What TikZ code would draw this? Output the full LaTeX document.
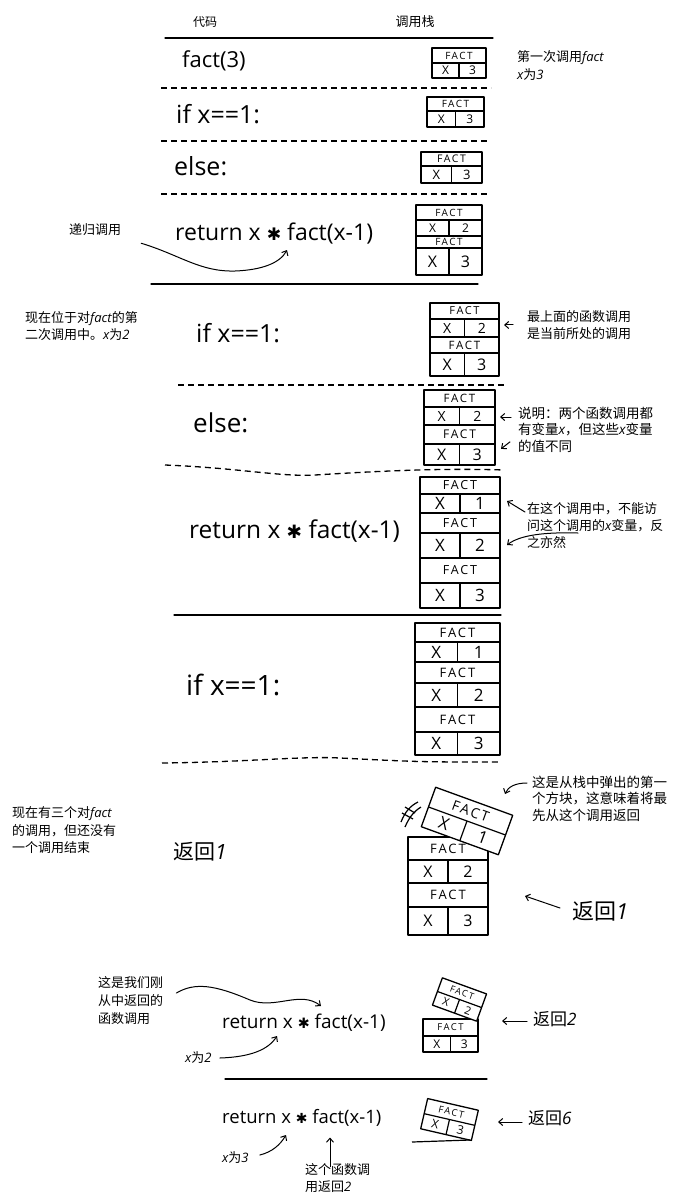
\documentclass[tikz,border=0pt]{standalone}
\usepackage{fontspec}
\setmainfont{Open Sans}
\newfontfamily\cjk{Noto Sans CJK SC}
\newfontfamily\starfont[Scale=0.75]{DejaVu Sans}
\newfontfamily\framefont[LetterSpace=15]{Open Sans}
\usetikzlibrary{arrows.meta}
\newcommand{\ital}[1]{{\normalfont\itshape #1}}
\newcommand{\timesstar}{{\starfont ✱}}
\newcommand{\callframe}[9]{%
\draw[framebox] (#2,#4) rectangle (#3,#6);
\draw[frameline] (#2,#5) -- (#3,#5);
\draw[frameline] ({((#2)+(#3))/2},#5) -- ({((#2)+(#3))/2},#6);
\draw ({((#2)+(#3))/2},{((#4)+(#5))/2}) node[framelbl, font=\framefont\fontsize{#8}{#8}\selectfont] (#1f) {FACT};
\draw ({(3*(#2)+(#3))/4},{((#5)+(#6))/2}) node[framelbl, font=\fontsize{#9}{#9}\selectfont] (#1x) {X};
\draw ({((#2)+3*(#3))/4},{((#5)+(#6))/2}) node[framelbl, font=\fontsize{#9}{#9}\selectfont] (#1v) {#7};}
\begin{document}
\begin{tikzpicture}[x=1pt, y=-1pt,
solidrule/.style={line width=1.3pt, line cap=round},
dashrule/.style={line width=1.3pt, dash pattern=on 6pt off 4pt},
framebox/.style={line width=1.3pt, fill=white, line join=round},
frameline/.style={line width=1.2pt},
framelbl/.style={inner sep=0pt},
code/.style={anchor=west, inner sep=0pt},
note/.style={anchor=north west, align=left, inner sep=0pt, font=\cjk\fontsize{13}{16.5}\selectfont},
arr/.style={-{Straight Barb[length=4pt,width=7pt]}, line width=1pt, line cap=round}]
\useasboundingbox (0,0) rectangle (700,1197);
\draw (205,22) node[note, anchor=center, font=\cjk\fontsize{12}{14}\selectfont] (hcode) {代码};
\draw (415,22) node[note, anchor=center] (hstack) {调用栈};
\draw[solidrule] (165,38) -- (493,38);
\draw (182,61) node[code, font=\fontsize{22}{26}\selectfont] (c1) {fact(3)};
\callframe{f1}{432}{486}{48}{63}{78}{3}{10}{12}
\draw (517,50.5) node[note, font=\cjk\fontsize{13}{18}\selectfont] (n1) {第一次调用\ital{fact}\\\ital{x}为\ital{3}};
\draw[dashrule] (161,88) -- (491,88);
\draw (176,114) node[code, font=\fontsize{25}{28}\selectfont] (c2) {if x==1:};
\callframe{f2}{427}{484}{97}{111}{127}{3}{10}{12}
\draw[dashrule] (161,141) -- (490,141);
\draw (174,166) node[code, font=\fontsize{25}{28}\selectfont] (c3) {else:};
\callframe{f3}{421}{482}{152}{166}{183}{3}{10.5}{13}
\draw[dashrule] (161,194) -- (487,194);
\draw (175,234) node[code, font=\fontsize{23}{26}\selectfont] (c4) {return x \timesstar\ fact(x-1)};
\callframe{f4a}{416}{482}{205}{220}{236}{2}{10}{12}
\callframe{f4b}{416}{482}{236}{248}{275}{3}{10}{16}
\draw (95,230) node[note, anchor=center] (n4) {递归调用};
\coordinate (t4) at (287,250);
\draw[arr] ([xshift=20pt,yshift=-7pt]n4.south east) .. controls (180,255) and (200,272) .. (235,271) .. controls (262,270) and (280,263) .. (t4);
\draw[solidrule] (151,284) -- (478,284);
\draw (25,311.5) node[note, font=\cjk\fontsize{13}{17}\selectfont] (n5l) {现在位于对\ital{fact}的第\\二次调用中。\ital{x}为\ital{2}};
\draw (196,333) node[code, font=\fontsize{25}{28}\selectfont] (c5) {if x==1:};
\callframe{f5a}{430}{499}{303}{319}{337}{2}{11}{14}
\callframe{f5b}{430}{499}{337}{353}{376}{3}{11.5}{16}
\draw (527,310.5) node[note] (n5) {最上面的函数调用\\是当前所处的调用};
\draw[arr] ([xshift=-14pt]n5.west) -- ([xshift=-23pt]n5.west);
\draw[dashrule] (178,385) -- (504,385);
\draw (193,423) node[code, font=\fontsize{26}{28}\selectfont] (c6) {else:};
\callframe{f6a}{424}{495}{390}{407}{425}{2}{11.5}{14}
\callframe{f6b}{424}{495}{425}{444}{465}{3}{12}{16}
\draw (518,406.5) node[note, font=\cjk\fontsize{13.5}{16.5}\selectfont] (n6) {说明：两个函数调用都\\有变量\ital{x}，但这些\ital{x}变量\\的值不同};
\draw[arr] ([xshift=-7pt,yshift=-10.5pt]n6.north west) -- ([xshift=-18pt,yshift=-10.5pt]n6.north west);
\draw[arr] ([xshift=-8pt,yshift=10.5pt]n6.south west) -- ([xshift=-17pt,yshift=3.5pt]n6.south west);
\draw[dashrule] (165,465) .. controls (240,468) and (280,477) .. (315,475) .. controls (380,471) and (440,468) .. (504,470);
\draw (189,531) node[code, font=\fontsize{24.5}{28}\selectfont] (c7) {return x \timesstar\ fact(x-1)};
\callframe{f7a}{420}{500}{477}{494}{513}{1}{12.5}{17}
\callframe{f7b}{420}{500}{513}{533}{558}{2}{12.5}{17}
\callframe{f7c}{420}{500}{558}{583}{608}{3}{12.5}{17}
\draw (527,502.5) node[note, font=\cjk\fontsize{13}{17}\selectfont] (n7) {在这个调用中，不能访\\问这个调用的\ital{x}变量，反\\之亦然};
\draw[arr] ([xshift=-2pt,yshift=-9.5pt]n7.north west) -- ([xshift=-20pt,yshift=1.5pt]n7.north west);
\coordinate (t7) at (507,545);
\draw[arr] ([xshift=51pt,yshift=-30.5pt]n7.north west) .. controls (545,532) and (520,535) .. (t7);
\draw[solidrule] (174,615) -- (501,615);
\draw (186,685) node[code, font=\fontsize{28}{30}\selectfont] (c8) {if x==1:};
\callframe{f8a}{415}{500}{623}{642}{662}{1}{13}{17}
\callframe{f8b}{415}{500}{662}{683}{707}{2}{13}{17}
\callframe{f8c}{415}{500}{707}{732}{755}{3}{13}{17}
\draw[dashrule] (162,763) .. controls (250,762) and (300,756) .. (340,758) .. controls (420,762) .. (500,762);
\draw (12,806.5) node[note, font=\cjk\fontsize{13}{17.5}\selectfont] (n9l) {现在有三个对\ital{fact}\\的调用，但还没有\\一个调用结束};
\draw (173,852) node[code, font=\cjk\fontsize{21}{24}\selectfont] (r9l) {返回\ital{1}};
\callframe{f9a}{408}{488}{837}{860}{883}{2}{13}{16}
\callframe{f9b}{408}{488}{883}{907}{935}{3}{13}{16}
\begin{scope}[shift={(467,821)}, rotate=-20, transform shape]
\callframe{tf9}{-41}{41}{-21}{0}{21}{1}{14}{17}
\end{scope}
\draw[frameline] (401,822) .. controls (405,812) and (410,806) .. (418,802);
\draw[frameline] (405,827) .. controls (409,818) and (413,812) .. (421,807);
\draw[frameline] (402,813) -- (413,819);
\draw[frameline] (405,807) -- (415,813);
\draw (532,775.5) node[note, font=\cjk\fontsize{13.5}{16.5}\selectfont] (n9) {这是从栈中弹出的第一\\个方块，这意味着将最\\先从这个调用返回};
\coordinate (t9) at (505,794);
\draw[arr] ([xshift=-5pt,yshift=-7.5pt]n9.north west) .. controls (515,783) and (508,787) .. (t9);
\draw (572,911) node[code, font=\cjk\fontsize{22}{24}\selectfont] (r9r) {返回\ital{1}};
\draw[arr] ([xshift=-12pt,yshift=3pt]r9r.west) -- ([xshift=-47pt,yshift=15pt]r9r.west);
\draw (98,976.5) node[note, font=\cjk\fontsize{13}{18}\selectfont] (n10) {这是我们刚\\从中返回的\\函数调用};
\draw (222,1023) node[code, font=\fontsize{19}{22}\selectfont] (c10) {return x \timesstar\ fact(x-1)};
\coordinate (t10) at (321,1006);
\draw[arr] ([xshift=13pt,yshift=-16.5pt]n10.north east) .. controls (195,982) and (215,985) .. (250,1000) .. controls (275,1010) and (300,990) .. (t10);
\draw (185,1058) node[code, font=\cjk\fontsize{13}{15}\selectfont] (x2) {\ital{x}为\ital{2}};
\coordinate (t10b) at (277,1036);
\draw[arr] ([xshift=8pt]x2.east) .. controls (250,1057) and (268,1050) .. (t10b);
\callframe{f10}{423}{478}{1019}{1036}{1052}{3}{9.5}{12}
\begin{scope}[shift={(459.5,999.5)}, rotate=-20, transform shape]
\callframe{tf10}{-23.5}{23.5}{-14.5}{0}{14.5}{2}{9}{11}
\end{scope}
\draw (533,1019) node[code, font=\cjk\fontsize{17}{20}\selectfont] (r10) {返回\ital{2}};
\draw[arr] ([xshift=-6pt,yshift=-2pt]r10.west) -- ([xshift=-31pt,yshift=-2pt]r10.west);
\draw[solidrule] (225,1079) -- (487,1079);
\draw (222,1118) node[code, font=\fontsize{18.5}{22}\selectfont] (c11) {return x \timesstar\ fact(x-1)};
\begin{scope}[shift={(449.5,1119.5)}, rotate=-13, transform shape]
\callframe{tf11}{-26}{26}{-15.5}{0}{15.5}{3}{9.5}{12}
\end{scope}
\draw[frameline] (412,1142) -- (470,1140);
\draw (528,1118) node[code, font=\cjk\fontsize{17}{20}\selectfont] (r11) {返回\ital{6}};
\draw[arr] ([xshift=-6pt,yshift=-4pt]r11.west) -- ([xshift=-30pt,yshift=-4pt]r11.west);
\draw (222,1158) node[code, font=\cjk\fontsize{13}{15}\selectfont] (x3) {\ital{x}为\ital{3}};
\coordinate (t11) at (286,1135);
\draw[arr] ([xshift=11pt,yshift=3pt]x3.east) .. controls (272,1152) and (280,1145) .. (t11);
\draw (305,1163.5) node[note, font=\cjk\fontsize{13}{17}\selectfont] (n11) {这个函数调\\用返回\ital{2}};
\draw[arr] ([xshift=25pt,yshift=-3pt]n11.north west) -- ([xshift=25pt,yshift=26pt]n11.north west);
\end{tikzpicture}
\end{document}
